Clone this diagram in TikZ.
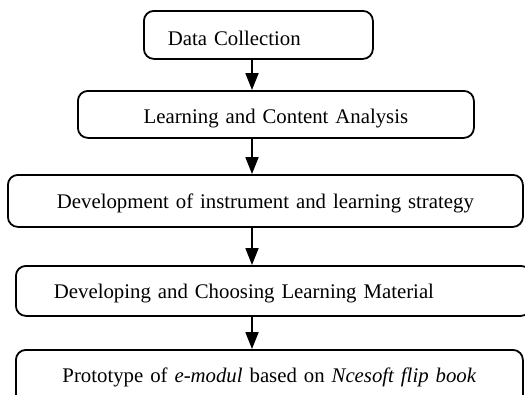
\documentclass[tikz,border=0pt]{standalone}
\usepackage{fontspec}
\setmainfont{Liberation Serif}
\usetikzlibrary{arrows.meta}

\tikzset{
  stage/.style={draw, line width=1.8pt, rounded corners=10pt, anchor=north west,
    inner ysep=0pt, inner xsep=0pt, align=center, font=\fontsize{20.8}{24}\selectfont},
  flow/.style={line width=1.8pt, -{Triangle[width=13pt,length=17pt]}}
}

\begin{document}
\begin{tikzpicture}[x=1pt, y=-1pt]
\useasboundingbox (0,0) rectangle (525,394);
\clip (0,0) rectangle (525,394);

% stages, top to bottom
\node[stage, text width=181pt, inner xsep=24pt, align=left, text height=35pt, text depth=13pt] (collect) at (143,10) {Data Collection};
\node[stage, text width=396pt, text height=33pt, text depth=14pt] (analysis) at (77,90) {Learning and Content Analysis};
\node[stage, text width=515pt, text height=34pt, text depth=18pt] (strategy) at (7,174) {Development of instrument and learning strategy};
\node[stage, text width=439pt, inner xsep=38pt, align=left, text height=33pt, text depth=17pt] (material) at (15,265) {Developing and Choosing Learning Material};
\node[stage, text width=507pt, text height=33pt, text depth=30pt] (prototype) at (15,349) {Prototype of \textit{e-modul} based on \textit{Ncesoft flip book}};

% arrows
\coordinate (spine) at (252,0);
\draw[flow] (spine |- collect.south) -- (spine |- analysis.north);
\draw[flow] (spine |- analysis.south) -- (spine |- strategy.north);
\draw[flow] (spine |- strategy.south) -- (spine |- material.north);
\draw[flow] (spine |- material.south) -- (spine |- prototype.north);

\end{tikzpicture}
\end{document}
